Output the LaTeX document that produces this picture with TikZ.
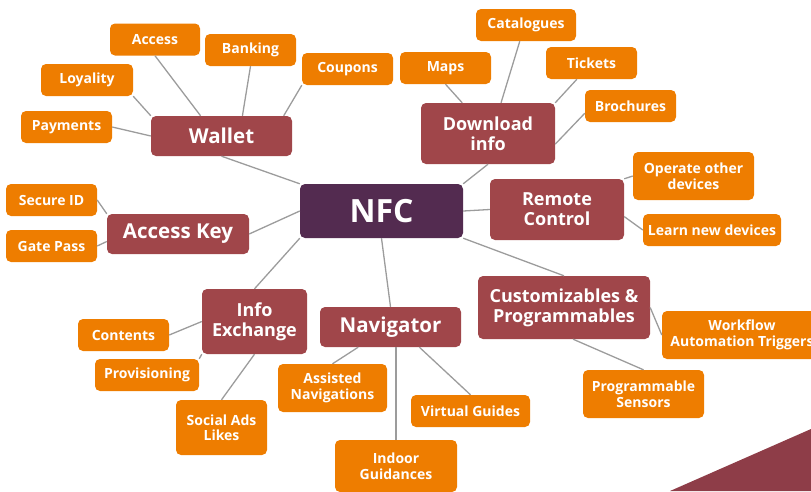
\documentclass[tikz,border=0pt]{standalone}
\usepackage{fontspec}
\setmainfont{Open Sans}
\usepackage{tikz}
\usetikzlibrary{arrows.meta}
\usetikzlibrary{positioning}
\definecolor{hubcol}{HTML}{532B50}
\definecolor{topiccol}{HTML}{A0464A}
\definecolor{leafcol}{HTML}{EE7D00}
\definecolor{cornercol}{HTML}{8E3D48}
\definecolor{linkcol}{HTML}{9C9C9C}

\tikzset{
  box/.style={rounded corners=5pt, text=white, inner sep=0pt, align=center},
  hub/.style={box, fill=hubcol, minimum width=163pt, minimum height=54pt,
    font=\fontsize{32}{34}\selectfont\bfseries},
  topic/.style={box, fill=topiccol, minimum width=141pt, minimum height=40pt,
    font=\fontsize{20.5}{22}\selectfont\bfseries},
  topictwo/.style={topic, font=\fontsize{18}{20}\selectfont\bfseries},
  leaf/.style={box, fill=leafcol, minimum width=91pt, minimum height=32pt,
    font=\fontsize{14}{15}\selectfont\bfseries},
  leaftwo/.style={leaf, font=\fontsize{14}{15.5}\selectfont\bfseries},
  link/.style={draw=linkcol, line width=1.3pt}
}

\begin{document}
\begin{tikzpicture}[x=1pt, y=-1pt]

  \useasboundingbox (0,0) rectangle (811,491);

  % ---------- Corner ----------
  \fill[cornercol] (670,491) -- (811,429) -- (811,491) -- cycle;

  % ---------- Centre ----------
  \node[hub] at (381.5,211) (nfc) {NFC};

  % ---------- Topics ----------
  \node[topic] at (221.5,136) (wallet) {Wallet};
  \node[topic, minimum width=142pt] at (178,234) (akey) {Access Key};
  \node[topictwo, minimum width=134pt, minimum height=61pt] at (488,133.5) (dl) {Download\\info};
  \node[topictwo, minimum width=134pt, minimum height=61pt] at (557,209.5) (rc) {Remote\\Control};
  \node[topictwo, minimum width=105pt, minimum height=65pt] at (254.5,321.5) (ie) {Info\\Exchange};
  \node[topic] at (390.5,327) (nav) {Navigator};
  \node[topictwo, minimum width=172pt, minimum height=63pt] at (564,307.5) (cust) {Customizables \&\\Programmables};

  % ---------- Leaves ----------
  % Wallet
  \node[leaf, minimum width=90pt] at (155,39.5) (access) {Access};
  \node[leaf] at (250.5,50) (bank) {Banking};
  \node[leaf, minimum width=92pt] at (87,80) (loy) {Loyality};
  \node[leaf] at (66.5,127) (pay) {Payments};
  \node[leaf] at (347.5,69) (coup) {Coupons};
  % Access Key
  \node[leaf] at (51.5,200) (sid) {Secure ID};
  \node[leaf] at (51.5,246) (gate) {Gate Pass};
  % Download info
  \node[leaf, minimum width=100pt] at (526,25) (cat) {Catalogues};
  \node[leaf] at (445.5,68) (maps) {Maps};
  \node[leaf] at (591.5,63) (tick) {Tickets};
  \node[leaf] at (630.5,106) (bro) {Brochures};
  % Remote Control
  \node[leaftwo, minimum width=121pt, minimum height=48pt] at (693.5,176) (oper) {Operate other\\devices};
  \node[leaf, minimum width=138pt] at (712,230) (learn) {Learn new devices};
  % Customizables
  \node[leaftwo, minimum width=160pt, minimum height=48pt] at (742,335) (flow) {Workflow\\Automation Triggers};
  \node[leaftwo, minimum width=121pt, minimum height=48pt] at (643.5,394) (sens) {Programmable\\Sensors};
  % Info Exchange
  \node[leaf] at (123.5,335) (cont) {Contents};
  \node[leaf, minimum width=104pt] at (147,375) (prov) {Provisioning};
  \node[leaftwo, minimum height=55pt] at (221.5,427.5) (social) {Social Ads\\Likes};
  % Navigator
  \node[leaftwo, minimum width=109pt, minimum height=48pt] at (332.5,388) (assist) {Assisted\\Navigations};
  \node[leaf, minimum width=119pt] at (470.5,411) (virt) {Virtual Guides};
  \node[leaftwo, minimum width=122pt, minimum height=52pt] at (396,466) (indoor) {Indoor\\Guidances};

  % ---------- Lines ----------
  \draw[link] (nfc.north west) -- (wallet.south);
  \draw[link] (nfc.west) -- (akey.east);
  \draw[link] (nfc.north east) -- (dl.south);
  \draw[link] (nfc.east) -- (rc.west);
  \draw[link] (nfc.south west) -- (ie.north);
  \draw[link] (nfc.south) -- (nav.north);
  \draw[link] (nfc.south east) -- (cust.north);

  \draw[link] (wallet.west) -- (pay.east);
  \draw[link] (wallet.north west) -- (loy.south east);
  \draw[link] (wallet.136) -- (access.south);
  \draw[link] (wallet.44) -- (bank.south);
  \draw[link] (wallet.18) -- (coup.south west);

  \draw[link] (akey.north west) -- (sid.east);
  \draw[link] (akey.186) -- (gate.east);

  \draw[link] (dl.130) -- (maps.south);
  \draw[link] (dl.67) -- (cat.249);
  \draw[link] (dl.north east) -- (tick.228);
  \draw[link] (dl.351) -- (bro.189);

  \draw[link] (rc.north east) -- (oper.west);
  \draw[link] (rc.354) -- (learn.west);

  \draw[link] (cust.east) -- (flow.west);
  \draw[link] (cust.286) -- (sens.north);

  \draw[link] (ie.west) -- (cont.east);
  \draw[link] (ie.south west) -- (prov.north east);
  \draw[link] (ie.south) -- (social.north);

  \draw[link] (nav.212) -- (assist.north);
  \draw[link] (nav.325) -- (virt.north);
  \draw[link] (indoor.north |- nav.south) -- (indoor.north);

\end{tikzpicture}
\end{document}
